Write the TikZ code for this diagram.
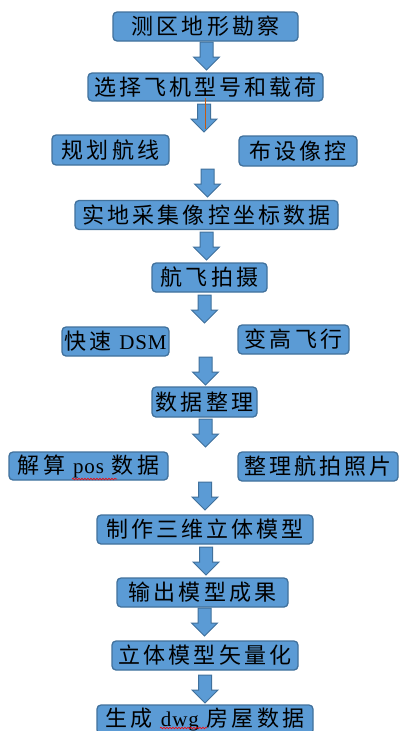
\documentclass[tikz,border=0pt]{standalone}
\usepackage{fontspec}
\usetikzlibrary{decorations.pathmorphing}
\newfontfamily\cjk[LetterSpace=14]{Noto Sans CJK SC}
\newfontfamily\lat[LetterSpace=4]{Liberation Serif}
\newcommand\latt[1]{{\lat\fontsize{21}{24}\selectfont #1}}
\definecolor{boxfill}{HTML}{5B9BD5}
\definecolor{boxline}{HTML}{41719C}
\definecolor{orangeline}{HTML}{C55A11}
\tikzset{
  stepbox/.style={draw=boxline, line width=1.3pt, fill=boxfill, rounded corners=4pt,
    inner sep=0pt, minimum height=29pt, text=black, anchor=center,
    font=\cjk\fontsize{22}{24}\selectfont},
  arrowfill/.style={draw=boxline, line width=1pt, fill=boxfill, line join=miter},
  blockarrow/.pic={\path[arrowfill] (-6.5,0) -- (6.5,0) -- (6.5,15) -- (13,15) -- (0,28) -- (-13,15) -- (-6.5,15) -- cycle;},
  squiggle/.style={draw=red, line width=0.6pt, decorate, decoration={snake, amplitude=0.8pt, segment length=3pt}}
}
\begin{document}
\begin{tikzpicture}[x=1pt,y=-1pt]
\useasboundingbox (0,0) rectangle (404,731);
\fill[white] (0,0) rectangle (404,731);

% boxes
\node[stepbox, minimum width=185pt] (s1) at (205.5,26.5) {测区地形勘察};
\node[stepbox, minimum width=235pt, minimum height=28pt] (s2) at (205.5,87) {选择飞机型号和载荷};
\node[stepbox, minimum width=117pt, minimum height=30pt] (s3a) at (110.5,150) {规划航线};
\node[stepbox, minimum width=118pt, minimum height=30pt] (s3b) at (298,151) {布设像控};
\node[stepbox, minimum width=263pt] (s4) at (206.5,215) {实地采集像控坐标数据};
\node[stepbox, minimum width=115pt] (s5) at (209.5,277.5) {航飞拍摄};
\node[stepbox, minimum width=107pt] (s6a) at (115.5,341.5) {快速 \latt{DSM}};
\node[stepbox, minimum width=111pt] (s6b) at (293.5,339.5) {变高飞行};
\node[stepbox, minimum width=105pt, minimum height=30pt] (s7) at (204.5,402) {数据整理};
\node[stepbox, minimum width=159pt, minimum height=28pt] (s8a) at (88.5,466) {解算 \latt{pos} 数据};
\node[stepbox, minimum width=160pt] (s8b) at (318,466.5) {整理航拍照片};
\node[stepbox, minimum width=216pt] (s9) at (205,529.5) {制作三维立体模型};
\node[stepbox, minimum width=171pt] (s10) at (202.5,592.5) {输出模型成果};
\node[stepbox, minimum width=186pt] (s11) at (205,655.5) {立体模型矢量化};
\node[stepbox, minimum width=216pt] (s12) at (205,719.5) {生成 \latt{dwg} 房屋数据};

% block arrows
\pic (a1) at (206.5,42) {blockarrow};
\pic (a2) at (204,104) {blockarrow};
\pic (a3) at (207.5,169) {blockarrow};
\pic (a4) at (206.5,232) {blockarrow};
\pic (a5) at (204.5,295) {blockarrow};
\pic (a6) at (205.5,357) {blockarrow};
\pic (a7) at (205.5,419) {blockarrow};
\pic (a8) at (205,482) {blockarrow};
\pic (a9) at (206,547) {blockarrow};
\pic (a10) at (204.5,608) {blockarrow};
\pic (a11) at (205,675) {blockarrow};

% orange line over second arrow
\coordinate (o1) at (205,98);
\coordinate (o2) at (205,129);
\draw[orangeline, line width=1pt] (o1) -- (o2);

% spell-check squiggles
\coordinate (q1) at (72,479);
\coordinate (q2) at (117,479);
\draw[squiggle] (q1) -- (q2);
\coordinate (q3) at (160,728);
\coordinate (q4) at (207,728);
\draw[squiggle] (q3) -- (q4);
\end{tikzpicture}
\end{document}
